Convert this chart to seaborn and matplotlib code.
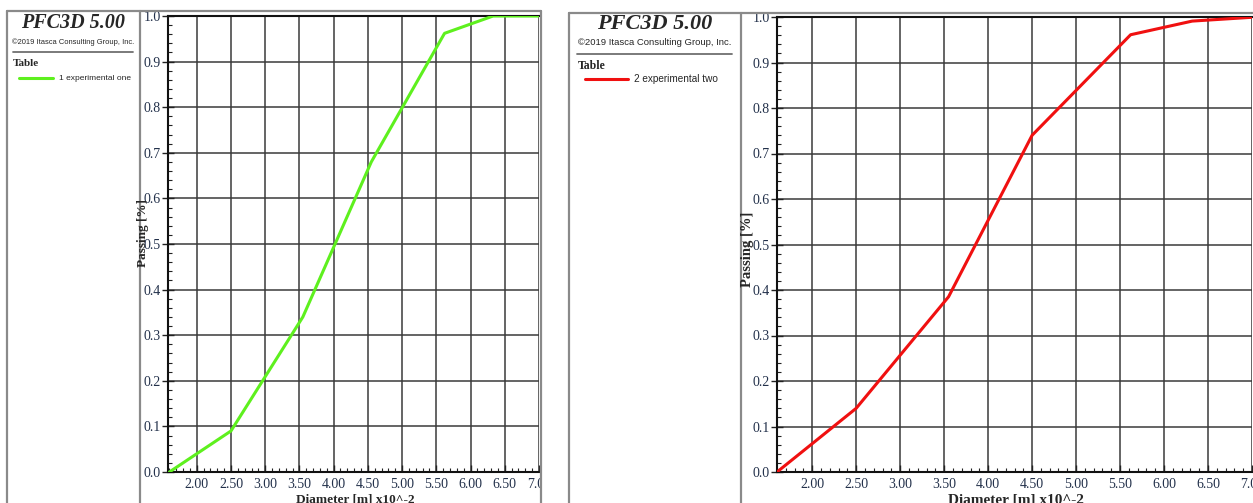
import numpy as np
import matplotlib
matplotlib.use("Agg")
import matplotlib.pyplot as plt
from matplotlib.lines import Line2D
from matplotlib.patches import Rectangle
from matplotlib.ticker import MultipleLocator, FormatStrFormatter
import seaborn as sns

# data (diameter x10^-2 m, passing fraction)
diam_one = [1.60, 2.50, 3.55, 4.55, 5.62, 6.33, 7.00]
pass_one = [0.00, 0.09, 0.34, 0.68, 0.962, 1.00, 1.00]
diam_two = [1.60, 2.50, 3.55, 4.50, 5.62, 6.32, 7.05]
pass_two = [0.00, 0.14, 0.385, 0.74, 0.961, 0.991, 1.00]
xticks = [2.0, 2.5, 3.0, 3.5, 4.0, 4.5, 5.0, 5.5, 6.0, 6.5, 7.0]
yticks = [0.0, 0.1, 0.2, 0.3, 0.4, 0.5, 0.6, 0.7, 0.8, 0.9, 1.0]

sns.set_style("ticks")
plt.rcParams['font.family'] = ['Liberation Serif', 'DejaVu Serif']

W, H = 1253, 503
fig = plt.figure(figsize=(W / 100, H / 100), dpi=100)
fig.patch.set_facecolor("white")


def rect(l, t, r, b):
    return [l / W, 1 - b / H, (r - l) / W, (b - t) / H]


def fx(x):
    return x / W


def fy(y):
    return 1 - y / H


def hline(x0, x1, y, color="#8a8a8a", lw=1.6, z=6):
    fig.add_artist(Line2D([fx(x0), fx(x1)], [fy(y), fy(y)], color=color, lw=lw, zorder=z))


def vline(x, y0, y1, color="#8a8a8a", lw=1.6, z=6):
    fig.add_artist(Line2D([fx(x), fx(x)], [fy(y0), fy(y1)], color=color, lw=lw, zorder=z))


def make_panel(pos, xmin, xmax, xs, ys, color, lab_x):
    ax = fig.add_axes(rect(*pos))
    sns.lineplot(x=xs, y=ys, ax=ax, color=color, lw=2.2, estimator=None, sort=False, zorder=3)
    ax.set_xlim(xmin, xmax)
    ax.set_ylim(0, 1.0)
    ax.set_xticks(xticks)
    ax.set_yticks(yticks)
    ax.xaxis.set_major_formatter(FormatStrFormatter("%.2f"))
    ax.yaxis.set_major_formatter(FormatStrFormatter("%.1f"))
    ax.xaxis.set_minor_locator(MultipleLocator(0.1))
    ax.yaxis.set_minor_locator(MultipleLocator(0.02))
    ax.grid(True, which="major", color="#3a3a3a", lw=1.1)
    ax.tick_params(axis="x", which="major", direction="in", length=5, width=1, pad=4,
                   labelsize=10, labelcolor="#22304a", colors="#222222")
    ax.tick_params(axis="x", which="minor", direction="in", length=3, width=0.8, colors="#222222")
    ax.tick_params(axis="y", which="major", direction="inout", length=8, width=1, pad=1,
                   labelsize=10, labelcolor="#22304a", colors="#222222")
    ax.tick_params(axis="y", which="minor", direction="in", length=3, width=0.8, colors="#222222")
    for s in ["left", "top", "bottom"]:
        ax.spines[s].set_color("#111111")
        ax.spines[s].set_linewidth(1.5)
    ax.spines["right"].set_visible(False)
    ax.set_xlabel("")
    ax.set_ylabel("")
    for lab in ax.get_xticklabels() + ax.get_yticklabels():
        lab.set_family(['Liberation Serif', 'DejaVu Serif'])
    ax.set_facecolor("white")
    return ax


ax1 = make_panel((168, 16, 539, 472), 1.58, 7.0, diam_one, pass_one, "#5ef01e", 146)
ax2 = make_panel((777, 17, 1252, 472), 1.60, 7.0, diam_two, pass_two, "#f01010", 747)

# axis titles
fig.text(fx(143), fy(233), "Passing [%]", rotation=90, ha="center", va="center",
         fontsize=9.5, fontweight="bold", zorder=7)
fig.text(fx(747), fy(249), "Passing [%]", rotation=90, ha="center", va="center",
         fontsize=10.5, fontweight="bold", zorder=7)
fig.text(fx(355), fy(494), "Diameter [m] x10^-2", ha="center", va="top",
         fontsize=9.5, fontweight="bold")
fig.text(fx(1016), fy(493), "Diameter [m] x10^-2", ha="center", va="top",
         fontsize=11, fontweight="bold")

# gap between the two windows hides the cut 7.00 label
fig.add_artist(Rectangle((fx(541), 0), fx(569) - fx(541), 1, transform=fig.transFigure,
                         facecolor="white", edgecolor="none", zorder=5))

# window frames
hline(7, 541, 10.7)
vline(7, 10.7, 503)
vline(140, 10.7, 503)
vline(541, 10.7, 503)
hline(569, 1253, 12.7)
vline(569, 12.7, 503)
vline(741, 12.7, 503)

# legend panes
panes = [
    dict(cx=73, t1=23, t2=41.7, rule=(13, 133, 52.3), tab=(13, 64), line=(19, 53, 78),
         txt=59, label="1 experimental one", color="#5ef01e", big=14.5, small=5.4,
         tsize=8, lsize=6),
    dict(cx=655, t1=24, t2=42.7, rule=(577, 732, 54.3), tab=(578, 65.7), line=(585, 628, 79.3),
         txt=634, label="2 experimental two", color="#f01010", big=16, small=6.8,
         tsize=8.5, lsize=7.2),
]
for p in panes:
    fig.text(fx(p["cx"]), fy(p["t1"]), "PFC3D 5.00", ha="center", va="center",
             fontsize=p["big"], fontweight="bold", fontstyle="italic", zorder=7)
    fig.text(fx(p["cx"]), fy(p["t2"]), "\u00a92019 Itasca Consulting Group, Inc.",
             ha="center", va="center", fontsize=p["small"],
             family=["Liberation Sans", "DejaVu Sans"], zorder=7)
    x0, x1, y = p["rule"]
    hline(x0, x1, y, color="#707070", lw=1.3, z=7)
    fig.text(fx(p["tab"][0]), fy(p["tab"][1]), "Table", ha="left", va="center",
             fontsize=p["tsize"], fontweight="bold", zorder=7)
    lx0, lx1, ly = p["line"]
    hline(lx0, lx1, ly, color=p["color"], lw=2.2, z=7)
    fig.text(fx(p["txt"]), fy(ly), p["label"], ha="left", va="center",
             fontsize=p["lsize"], family=["Liberation Sans", "DejaVu Sans"], zorder=7)

fig.savefig("out.png", dpi=100, facecolor="white")
